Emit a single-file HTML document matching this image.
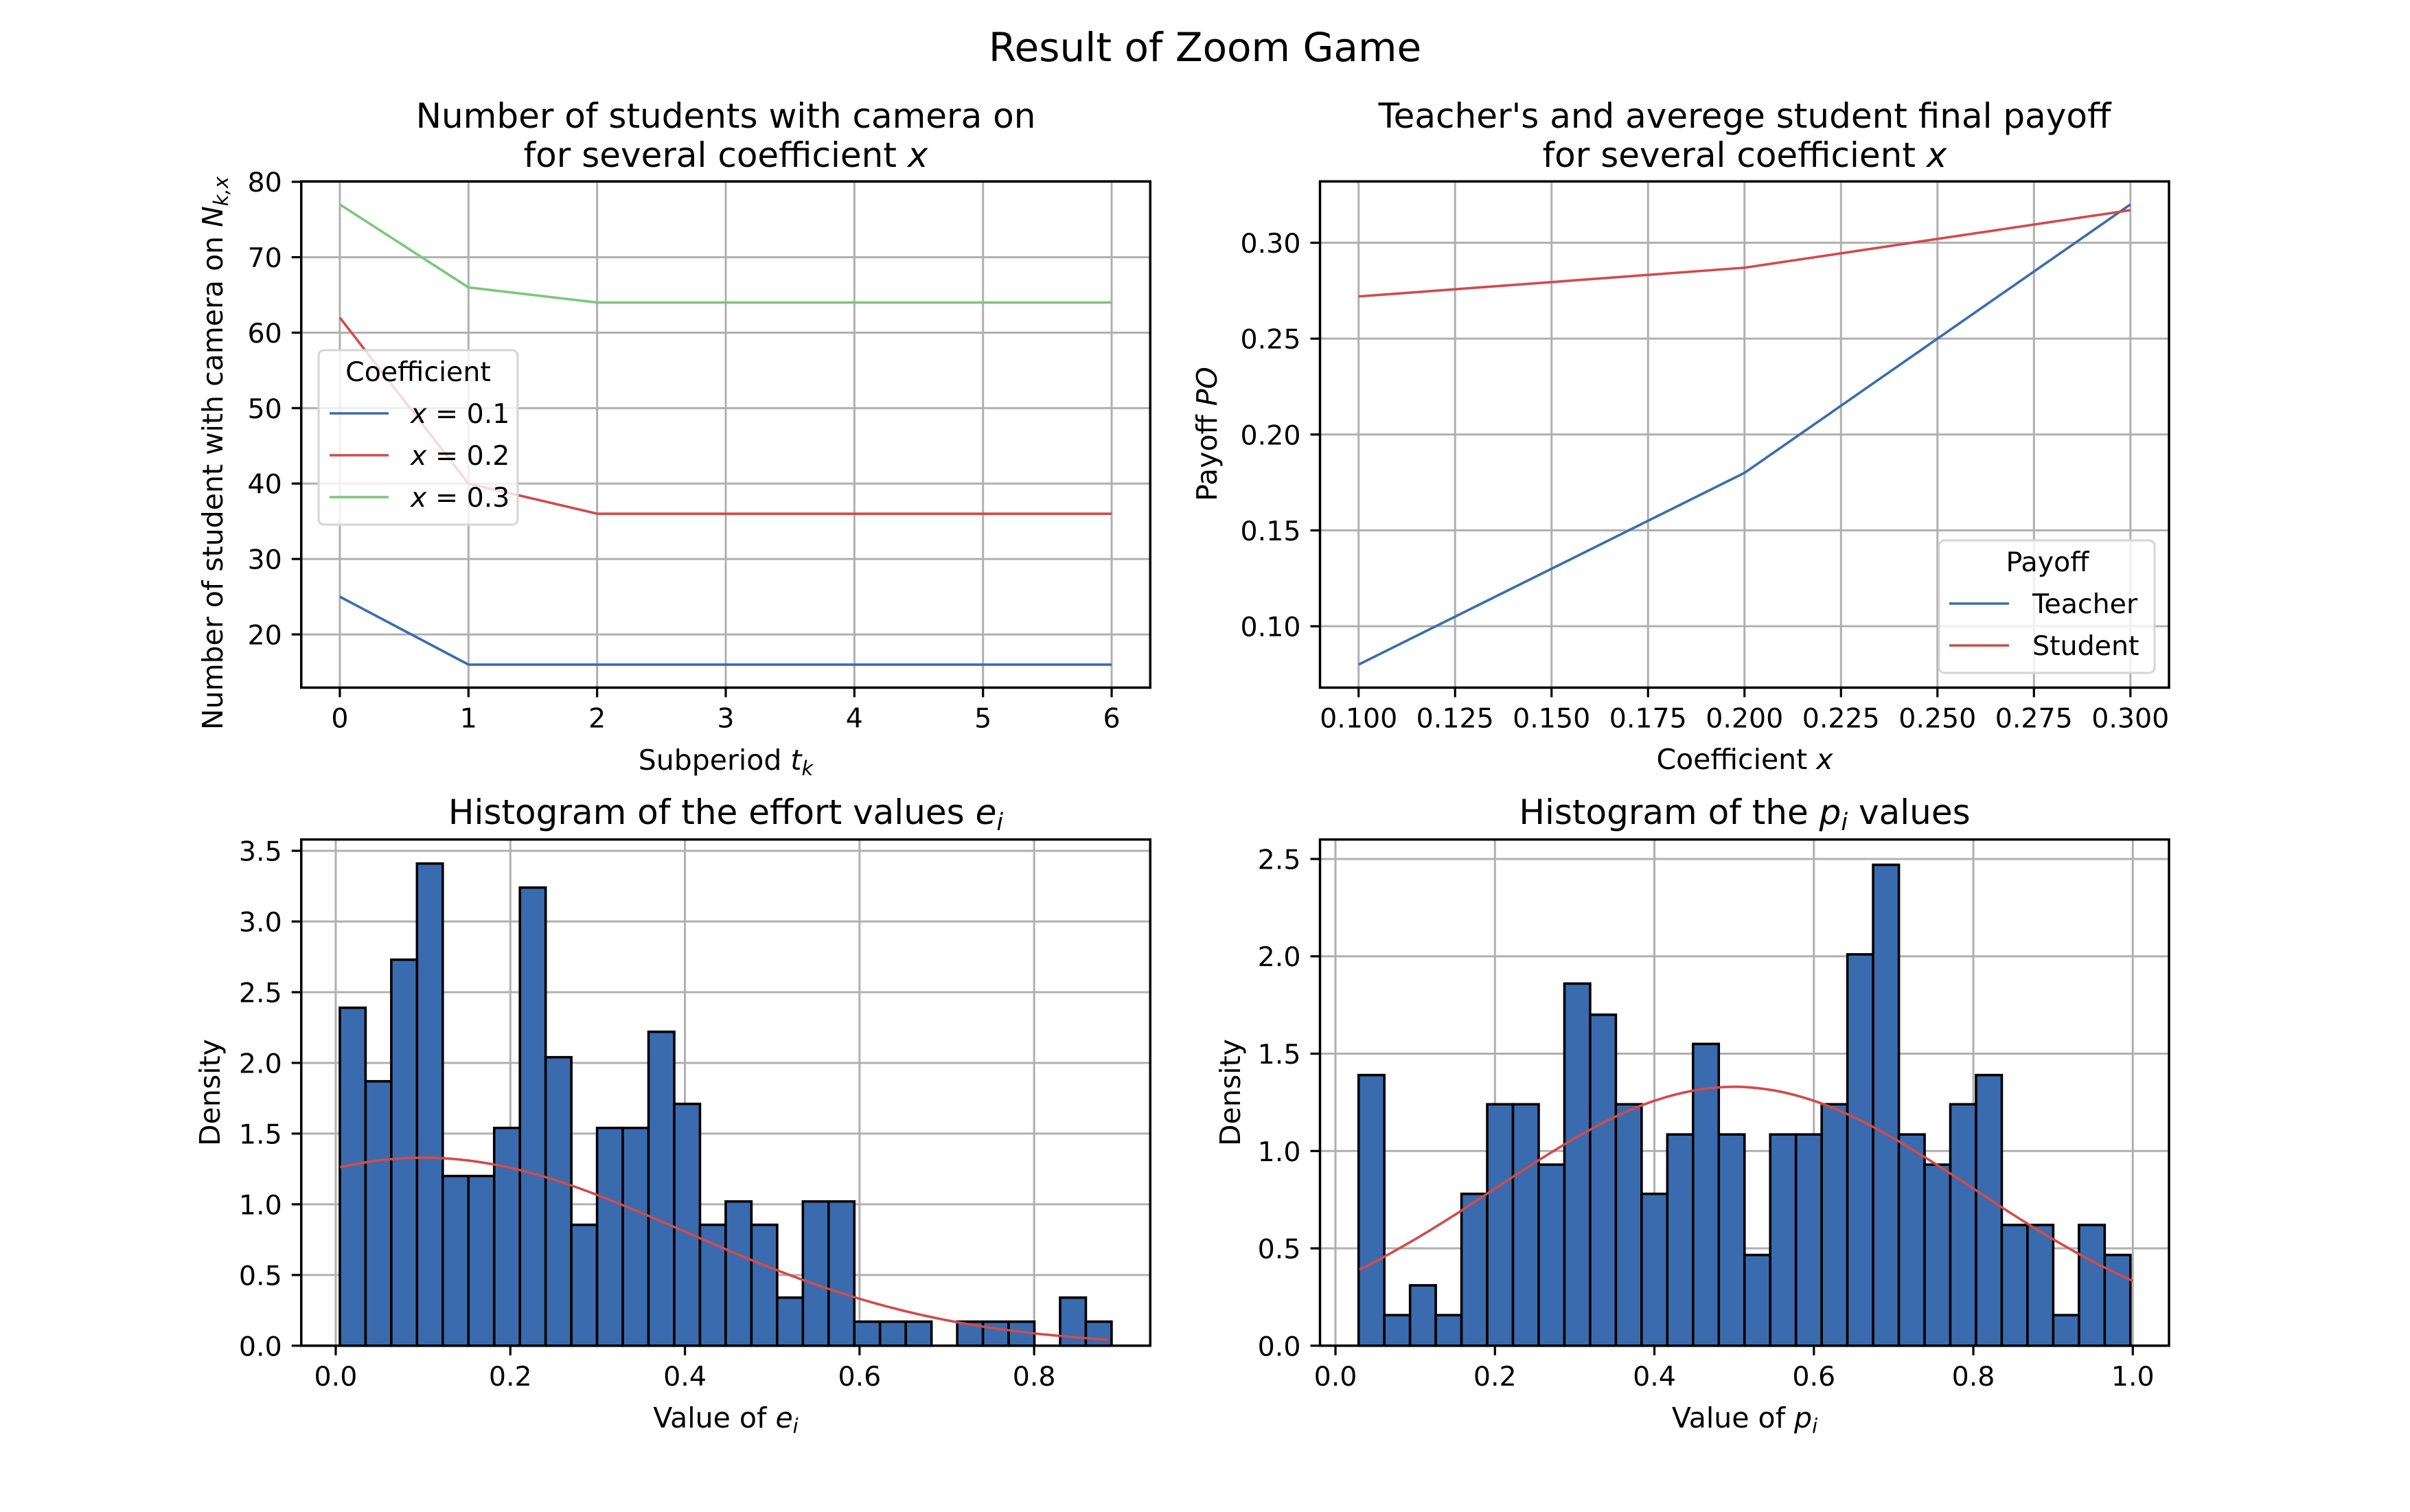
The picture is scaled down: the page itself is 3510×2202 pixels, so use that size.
<!DOCTYPE html>
<html><head><meta charset="utf-8"><style>
html,body{margin:0;padding:0;background:#fff;}
svg{display:block;font-family:"DejaVu Sans","Liberation Sans",sans-serif;}
</style></head><body>
<svg id="fig" xmlns="http://www.w3.org/2000/svg" width="3510" height="2202" viewBox="0 0 3510 2202">
<rect width="3510" height="2202" fill="#fff"/>
<text x="1755" y="89" font-size="58" text-anchor="middle">Result of Zoom Game</text>
</svg>
<script>
// ---- data ----
const subperiods = [0,1,2,3,4,5,6];
const camX01 = [25,16,16,16,16,16,16];
const camX02 = [62,40,36,36,36,36,36];
const camX03 = [77,66,64,64,64,64,64];
const coefX = [0.1,0.2,0.3];
const teacherPayoff = [0.08,0.18,0.32];
const studentPayoff = [0.272,0.287,0.317];
const effortDensity = [2.39,1.87,2.73,3.41,1.20,1.20,1.54,3.24,2.04,0.855,1.54,1.54,2.22,1.71,0.855,1.02,0.855,0.34,1.02,1.02,0.17,0.17,0.17,0,0.17,0.17,0.17,0,0.34,0.17];
const effortRange = [0.0047,0.8887];
const effortCurveX = [0.005,0.05,0.1,0.15,0.2,0.25,0.3,0.35,0.4,0.45,0.5,0.55,0.6,0.65,0.7,0.75,0.8,0.85,0.885];
const effortCurveY = [1.263,1.311,1.330,1.311,1.258,1.174,1.065,0.940,0.807,0.673,0.547,0.432,0.332,0.248,0.180,0.127,0.087,0.058,0.043];
const pDensity = [1.39,0.157,0.31,0.157,0.78,1.24,1.24,0.93,1.86,1.70,1.24,0.78,1.085,1.55,1.085,0.466,1.085,1.085,1.24,2.01,2.47,1.085,0.93,1.24,1.39,0.62,0.62,0.157,0.62,0.466];
const pRange = [0.029,0.997];
const pCurveX = [0.03,0.05,0.1,0.15,0.2,0.25,0.3,0.35,0.4,0.45,0.5,0.55,0.6,0.65,0.7,0.75,0.8,0.85,0.9,0.95,1.0];
const pCurveY = [0.39,0.432,0.547,0.673,0.807,0.940,1.065,1.174,1.258,1.311,1.330,1.311,1.258,1.174,1.065,0.940,0.807,0.673,0.547,0.432,0.332];
const tlXTicks = [0,1,2,3,4,5,6];
const tlYTicks = [20,30,40,50,60,70,80];
const trXTicks = [0.1,0.125,0.15,0.175,0.2,0.225,0.25,0.275,0.3];
const trYTicks = [0.10,0.15,0.20,0.25,0.30];
const blXTicks = [0,0.2,0.4,0.6,0.8];
const blYTicks = [0,0.5,1,1.5,2,2.5,3,3.5];
const brXTicks = [0,0.2,0.4,0.6,0.8,1.0];
const brYTicks = [0,0.5,1,1.5,2,2.5];

const NS='http://www.w3.org/2000/svg';
const svg=document.getElementById('fig');
function mk(tag,attrs,parent){const e=document.createElementNS(NS,tag);for(const k in attrs)e.setAttribute(k,attrs[k]);(parent||svg).appendChild(e);return e;}
const BLUE='#3a6cb0',RED='#d24b4b',GREEN='#7bc87b',BAR='#3a6baf';
const FS=39.5, LFS=41, TFS=50;

function makeAxes(L,T,W,H,xmin,xmax,ymin,ymax,name){
  const ax={L,T,W,H,g:mk('g',{})};
  
  
  ax.x=v=>L+(v-xmin)/(xmax-xmin)*W;
  ax.y=v=>T+H-(v-ymin)/(ymax-ymin)*H;
  return ax;
}
function grid(ax,xt,yt){
  const g=ax.g;
  xt.forEach(v=>{const X=ax.x(v);
    const gl=mk('line',{x1:X,x2:X,y1:ax.T,y2:ax.T+ax.H,stroke:'#b0b0b0','stroke-width':3},g);
    
  });
  yt.forEach(v=>{const Y=ax.y(v);
    const gl=mk('line',{x1:ax.L,x2:ax.L+ax.W,y1:Y,y2:Y,stroke:'#b0b0b0','stroke-width':3},g);
    
  });
}
function frame(ax,xt,yt,xfmt,yfmt){
  const g=ax.g;
  xt.forEach(v=>{const X=ax.x(v);
    mk('line',{x1:X,x2:X,y1:ax.T+ax.H,y2:ax.T+ax.H+14,stroke:'#000','stroke-width':3.2},g);
    const t=mk('text',{x:X,y:ax.T+ax.H+58,'font-size':FS,'text-anchor':'middle'},g);
    t.textContent=xfmt(v);
    
  });
  yt.forEach(v=>{const Y=ax.y(v);
    mk('line',{x1:ax.L-14,x2:ax.L,y1:Y,y2:Y,stroke:'#000','stroke-width':3.2},g);
    const t=mk('text',{x:ax.L-28,y:Y+14.5,'font-size':FS,'text-anchor':'end'},g);
    t.textContent=yfmt(v);
    
  });
  const r=mk('rect',{x:ax.L,y:ax.T,width:ax.W,height:ax.H,fill:'none',stroke:'#000','stroke-width':3.5},g);
  
}
function line(ax,xs,ys,color,name){
  const d=xs.map((v,i)=>(i?'L':'M')+ax.x(v).toFixed(2)+' '+ax.y(ys[i]).toFixed(2)).join(' ');
  const p=mk('path',{d,fill:'none',stroke:color,'stroke-width':3.6,'stroke-linejoin':'round'},ax.g);
  
}
function smooth(ax,xs,ys,color,name){
  const P=xs.map((v,i)=>[ax.x(v),ax.y(ys[i])]);
  let d='M'+P[0][0].toFixed(2)+' '+P[0][1].toFixed(2);
  for(let i=0;i<P.length-1;i++){
    const p0=P[Math.max(0,i-1)],p1=P[i],p2=P[i+1],p3=P[Math.min(P.length-1,i+2)];
    const c1=[p1[0]+(p2[0]-p0[0])/6,p1[1]+(p2[1]-p0[1])/6];
    const c2=[p2[0]-(p3[0]-p1[0])/6,p2[1]-(p3[1]-p1[1])/6];
    d+=` C${c1[0].toFixed(2)} ${c1[1].toFixed(2)} ${c2[0].toFixed(2)} ${c2[1].toFixed(2)} ${p2[0].toFixed(2)} ${p2[1].toFixed(2)}`;
  }
  const p=mk('path',{d,fill:'none',stroke:color,'stroke-width':3.6},ax.g);
  
}
function hist(ax,vals,range,name){
  const w=(range[1]-range[0])/vals.length;
  vals.forEach((v,i)=>{
    const x0=ax.x(range[0]+i*w),x1=ax.x(range[0]+(i+1)*w),y0=ax.y(0),y1=ax.y(v);
    const r=mk('rect',{x:x0,y:y1,width:x1-x0,height:y0-y1,fill:BAR,stroke:'#000','stroke-width':3.6},ax.g);
    
  });
}
function text(str,x,y,size,anchor,name,rot){
  const a={x,y,'font-size':size,'text-anchor':anchor||'middle'};
  if(rot)a.transform=`rotate(-90 ${x} ${y})`;
  const t=mk('text',a);t.innerHTML=str;
  
  return t;
}
const f0=v=>String(v), f1=v=>v.toFixed(1), f2=v=>v.toFixed(2), f3=v=>v.toFixed(3);

const L1=438.75,L2=1922.5,AW=1236.5,T1=264.2,T2=1222.6,AH=737.2;

// ---- top-left ----
const a1=makeAxes(L1,T1,AW,AH,-0.3,6.3,12.95,80.05,'camera-chart');
grid(a1,tlXTicks,tlYTicks);
line(a1,subperiods,camX01,BLUE,'line-x-0.1');
line(a1,subperiods,camX02,RED,'line-x-0.2');
line(a1,subperiods,camX03,GREEN,'line-x-0.3');
frame(a1,tlXTicks,tlYTicks,f0,f0);
text('Number of students with camera on',1057,186,TFS,'middle','camera-chart-title');
text('for several coefficient <tspan font-style="italic">x</tspan>',1057,243,TFS,'middle','camera-chart-title-line2');
text('Subperiod <tspan font-style="italic">t</tspan><tspan font-style="italic" font-size="29" dy="8">k</tspan>',1057,1121,LFS,'middle','camera-x-axis-title');
text('Number of student with camera on <tspan font-style="italic">N</tspan><tspan font-style="italic" font-size="29" dy="8">k,x</tspan>',324,660,LFS,'middle','camera-y-axis-title',true);
(function(){
  const g=mk('g',{});
  mk('rect',{x:464,y:510,width:290,height:254,rx:8,fill:'#fff','fill-opacity':0.8,stroke:'#d5d5d5','stroke-width':3},g);
  const t=mk('text',{x:609,y:555,'font-size':FS,'text-anchor':'middle'},g);t.textContent='Coefficient';
  const labels=['0.1','0.2','0.3'],cols=[BLUE,RED,GREEN];
  labels.forEach((l,i)=>{const y=602+i*61;
    const e=mk('g',{},g);
    mk('line',{x1:480,x2:566,y1:y,y2:y,stroke:cols[i],'stroke-width':3.6},e);
    const tt=mk('text',{x:598,y:y+14,'font-size':FS},e);
    tt.innerHTML='<tspan font-style="italic">x</tspan> = '+l;
  });
})();

// ---- top-right ----
const a2=makeAxes(L2,T1,AW,AH,0.09,0.31,0.068,0.332,'payoff-chart');
grid(a2,trXTicks,trYTicks);
line(a2,coefX,teacherPayoff,BLUE,'teacher-line');
line(a2,coefX,studentPayoff,RED,'student-line');
frame(a2,trXTicks,trYTicks,f3,f2);
text("Teacher's and averege student final payoff",2541,186,TFS,'middle','payoff-chart-title');
text('for several coefficient <tspan font-style="italic">x</tspan>',2541,243,TFS,'middle','payoff-chart-title-line2');
text('Coefficient <tspan font-style="italic">x</tspan>',2541,1120,LFS,'middle','payoff-x-axis-title');
text('Payoff <tspan font-style="italic">PO</tspan>',1772,632,LFS,'middle','payoff-y-axis-title',true);
(function(){
  const g=mk('g',{});
  mk('rect',{x:2824,y:787,width:314,height:193,rx:8,fill:'#fff','fill-opacity':0.8,stroke:'#d5d5d5','stroke-width':3},g);
  const t=mk('text',{x:2982,y:832,'font-size':FS,'text-anchor':'middle'},g);t.textContent='Payoff';
  [['Teacher',BLUE,879],['Student',RED,940]].forEach(([l,c,y])=>{
    const e=mk('g',{},g);
    mk('line',{x1:2839,x2:2926,y1:y,y2:y,stroke:c,'stroke-width':3.6},e);
    const tt=mk('text',{x:2960,y:y+14,'font-size':FS},e);tt.textContent=l;
  });
})();

// ---- bottom-left ----
const a3=makeAxes(L1,T2,AW,AH,-0.0395,0.933,0,3.58,'effort-histogram');
grid(a3,blXTicks,blYTicks);
hist(a3,effortDensity,effortRange,'effort');
smooth(a3,effortCurveX,effortCurveY,RED,'effort-density-curve');
frame(a3,blXTicks,blYTicks,f1,f1);
text('Histogram of the effort values <tspan font-style="italic">e</tspan><tspan font-style="italic" font-size="35" dy="9">i</tspan>',1057,1200,TFS,'middle','effort-histogram-title');
text('Value of <tspan font-style="italic">e</tspan><tspan font-style="italic" font-size="29" dy="8">i</tspan>',1057,2079,LFS,'middle','effort-x-axis-title');
text('Density',320,1591,LFS,'middle','effort-y-axis-title',true);

// ---- bottom-right ----
const a4=makeAxes(L2,T2,AW,AH,-0.0194,1.0454,0,2.6,'p-histogram');
grid(a4,brXTicks,brYTicks);
hist(a4,pDensity,pRange,'p');
smooth(a4,pCurveX,pCurveY,RED,'p-density-curve');
frame(a4,brXTicks,brYTicks,f1,f1);
text('Histogram of the <tspan font-style="italic">p</tspan><tspan font-style="italic" font-size="35" dy="9">i</tspan><tspan dy="-9"> values</tspan>',2541,1200,TFS,'middle','p-histogram-title');
text('Value of <tspan font-style="italic">p</tspan><tspan font-style="italic" font-size="29" dy="8">i</tspan>',2541,2079,LFS,'middle','p-x-axis-title');
text('Density',1806,1591,LFS,'middle','p-y-axis-title',true);
</script>
</body></html>
